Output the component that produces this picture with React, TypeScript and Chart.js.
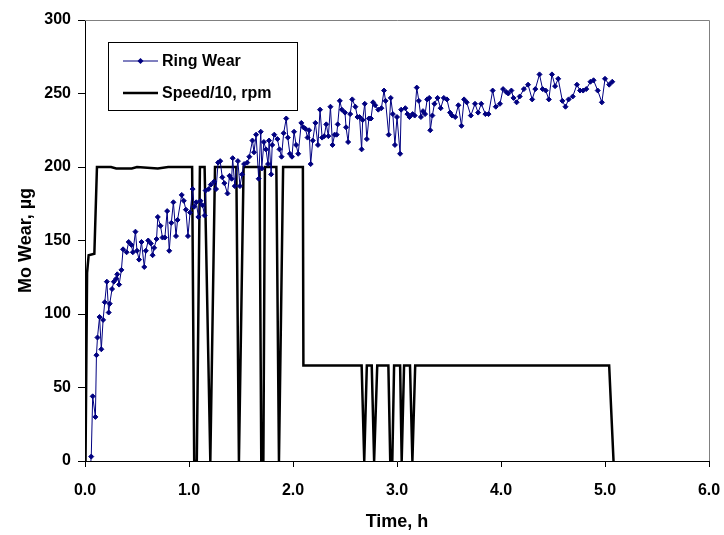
import React, { useEffect, useRef } from "react";
import { Chart, registerables } from "chart.js";

Chart.register(...registerables);

const FONT = 'Arial, "Liberation Sans", Helvetica, sans-serif';

// Ring wear series (time in h, wear in µg)
const ringTime = [
  0.04, 0.06, 0.074, 0.10, 0.11, 0.12, 0.14, 0.157, 0.174, 0.19, 0.21, 0.228, 0.238, 0.26, 0.277, 0.30,
  0.31, 0.328, 0.35, 0.366, 0.40, 0.42, 0.446, 0.46, 0.485, 0.50, 0.52, 0.543, 0.57, 0.585, 0.608, 0.633,
  0.65, 0.665, 0.688, 0.70, 0.726, 0.745, 0.768, 0.79, 0.81, 0.83, 0.85, 0.875, 0.89, 0.93, 0.95, 0.97,
  0.99, 1.01, 1.035, 1.05, 1.07, 1.09, 1.11, 1.13, 1.15, 1.16, 1.19, 1.21, 1.24, 1.26, 1.28, 1.30,
  1.32, 1.34, 1.37, 1.39, 1.41, 1.42, 1.44, 1.47, 1.49, 1.51, 1.53, 1.56, 1.58, 1.61, 1.625, 1.645,
  1.67, 1.69, 1.70, 1.72, 1.74, 1.76, 1.77, 1.79, 1.80, 1.82, 1.85, 1.87, 1.89, 1.91, 1.935, 1.95,
  1.97, 1.99, 2.01, 2.03, 2.05, 2.08, 2.10, 2.12, 2.14, 2.155, 2.17, 2.19, 2.215, 2.24, 2.26, 2.28,
  2.30, 2.32, 2.34, 2.36, 2.38, 2.40, 2.42, 2.43, 2.45, 2.47, 2.50, 2.51, 2.53, 2.55, 2.57, 2.60,
  2.62, 2.64, 2.66, 2.67, 2.69, 2.71, 2.73, 2.75, 2.77, 2.79, 2.82, 2.85, 2.875, 2.89, 2.92, 2.94,
  2.96, 2.98, 3.00, 3.03, 3.04, 3.08, 3.10, 3.12, 3.15, 3.17, 3.19, 3.21, 3.23, 3.25, 3.27, 3.29,
  3.31, 3.32, 3.34, 3.36, 3.39, 3.42, 3.45, 3.48, 3.51, 3.53, 3.56, 3.59, 3.62, 3.645, 3.67, 3.71,
  3.75, 3.78, 3.81, 3.85, 3.88, 3.92, 3.95, 3.99, 4.02, 4.05, 4.07, 4.10, 4.12, 4.15, 4.18, 4.22,
  4.26, 4.30, 4.33, 4.37, 4.40, 4.43, 4.46, 4.49, 4.52, 4.55, 4.59, 4.62, 4.65, 4.69, 4.73, 4.76,
  4.79, 4.82, 4.86, 4.89, 4.93, 4.97, 5.00, 5.04, 5.07,
];
const ringWear = [
  -15, 3, 44, 30, 72, 84, 98, 76, 96, 108, 122, 101, 107, 117, 122, 124,
  127, 120, 130, 144, 142, 149, 147, 142, 156, 143, 137, 149, 132, 143, 150, 148,
  140, 145, 151, 166, 160, 152, 152, 170, 143, 162, 176, 153, 164, 181, 177, 171,
  153, 169, 185, 173, 176, 166, 177, 174, 167, 184, 185, 188, 190, 185, 203, 204,
  193, 189, 182, 194, 192, 206, 187, 204, 187, 195, 202, 203, 207, 218, 210, 222,
  192, 224, 199, 217, 212, 202, 218, 195, 215, 222, 219, 212, 207, 223, 233, 220,
  209, 207, 224, 215, 209, 230, 227, 226, 220, 225, 202, 218, 230, 215, 239, 220,
  221, 229, 221, 241, 215, 222, 222, 229, 245, 239, 237, 227, 217, 236, 246, 241,
  234, 234, 212, 232, 243, 219, 233, 233, 244, 242, 239, 240, 252, 245, 222, 247,
  236, 215, 234, 209, 239, 240, 236, 234, 236, 235, 254, 245, 234, 238, 236, 246,
  247, 225, 235, 243, 247, 240, 247, 246, 237, 235, 234, 242, 228, 246, 244, 235,
  243, 237, 243, 236, 236, 252, 241, 243, 253, 251, 250, 252, 247, 244, 248, 253,
  256, 246, 253, 263, 253, 252, 246, 263, 255, 260, 245, 241, 246, 248, 256, 252,
  252, 253, 258, 259, 252, 244, 260, 256, 258,
];

// Speed / 10 (rpm) series
const speedTime = [
  0.005, 0.02, 0.035, 0.09, 0.115, 0.25, 0.3, 0.45, 0.5, 0.7, 0.8, 1.03,
  1.05, 1.075, 1.105, 1.15, 1.205, 1.25, 1.455, 1.48, 1.525, 1.678, 1.695, 1.715,
  1.73, 1.84, 1.865, 1.905, 2.095, 2.1, 2.66, 2.685, 2.71, 2.757, 2.78, 2.81,
  2.917, 2.935, 2.955, 2.972, 3.03, 3.045, 3.068, 3.125, 3.148, 3.175, 5.04, 5.082,
];
const speedValue = [
  0, 128, 140, 141, 200, 200, 199, 199, 200, 199, 200, 200,
  0, 0, 200, 200, 0, 200, 200, 0, 200, 200, 0, 0,
  200, 200, 0, 200, 200, 65, 65, 0, 65, 65, 0, 65,
  65, 0, 0, 65, 65, 0, 65, 65, 0, 65, 65, 0,
];

const seriesLabels = ["Ring Wear", "Speed/10, rpm"];
const xTitle = "Time, h";
const yTitle = "Mo Wear, µg";

const framePlugin = {
  id: "frame",
  beforeDatasetsDraw(chart: any) {
    const { ctx, chartArea } = chart;
    ctx.save();
    ctx.strokeStyle = "#808080";
    ctx.lineWidth = 1;
    ctx.beginPath();
    ctx.moveTo(chartArea.left, chartArea.top + 0.5);
    ctx.lineTo(chartArea.right + 0.5, chartArea.top + 0.5);
    ctx.lineTo(chartArea.right + 0.5, chartArea.bottom);
    ctx.stroke();
    ctx.restore();
  },
};

const boxLegendPlugin = {
  id: "boxLegend",
  afterDraw(chart: any) {
    const ctx = chart.ctx;
    const ds = chart.data.datasets;
    ctx.save();
    const bx = 108.5, by = 42.5, bw = 189, bh = 68;
    ctx.fillStyle = "#ffffff";
    ctx.fillRect(bx, by, bw, bh);
    ctx.strokeStyle = "#000";
    ctx.lineWidth = 1;
    ctx.strokeRect(bx, by, bw, bh);
    const rows = [61, 93];
    const x0 = 123, x1 = 158, tx = 162;
    ds.forEach((d: any, i: number) => {
      const y = rows[i];
      ctx.strokeStyle = d.borderColor;
      ctx.lineWidth = d.borderWidth;
      ctx.beginPath();
      ctx.moveTo(x0, y);
      ctx.lineTo(x1, y);
      ctx.stroke();
      if (d.pointRadius > 0) {
        const cx = (x0 + x1) / 2, r = 3;
        ctx.fillStyle = d.pointBackgroundColor;
        ctx.beginPath();
        ctx.moveTo(cx, y - r);
        ctx.lineTo(cx + r, y);
        ctx.lineTo(cx, y + r);
        ctx.lineTo(cx - r, y);
        ctx.closePath();
        ctx.fill();
      }
      ctx.fillStyle = "#000";
      ctx.font = `bold 16px ${FONT}`;
      ctx.textBaseline = "middle";
      ctx.textAlign = "left";
      ctx.fillText(d.label, tx, y + 1);
    });
    ctx.restore();
  },
};

function ChartView() {
  const ref = useRef<HTMLCanvasElement | null>(null);
  useEffect(() => {
    if (!ref.current) return;
    const ringData = ringTime.map((t, i) => ({ x: t, y: ringWear[i] }));
    const speedData = speedTime.map((t, i) => ({ x: t, y: speedValue[i] }));
    const tickFont = { family: FONT, size: 16, weight: "bold" as const };
    const titleFont = { family: FONT, size: 18, weight: "bold" as const };
    const chart = new Chart(ref.current, {
      type: "line",
      data: {
        datasets: [
          {
            label: seriesLabels[0],
            data: ringData,
            borderColor: "#000080",
            backgroundColor: "#000080",
            borderWidth: 1,
            pointStyle: "rectRot",
            pointRadius: 2.5,
            pointBackgroundColor: "#000080",
            pointBorderColor: "#000080",
            pointBorderWidth: 1,
            tension: 0,
          },
          {
            label: seriesLabels[1],
            data: speedData,
            borderColor: "#000000",
            backgroundColor: "#000000",
            borderWidth: 2.5,
            pointRadius: 0,
            tension: 0,
          },
        ],
      },
      options: {
        animation: false,
        responsive: false,
        maintainAspectRatio: false,
        layout: { padding: { top: 20, right: 15, left: 0, bottom: 0 } },
        plugins: { legend: { display: false }, tooltip: { enabled: false } },
        scales: {
          x: {
            type: "linear",
            min: 0,
            max: 6,
            afterFit: (s: any) => { s.height = 74; s.paddingLeft = 0; s.paddingRight = 0; },
            ticks: {
              stepSize: 1,
              color: "#000",
              font: tickFont,
              padding: 14,
              maxRotation: 0,
              callback: (v: any) => Number(v).toFixed(1),
            },
            grid: { display: true, drawOnChartArea: false, drawTicks: true, tickLength: 6, color: "#000" },
            border: { display: true, color: "#000", width: 1 },
            title: { display: true, text: xTitle, color: "#000", font: titleFont, padding: { top: 0, bottom: 2 } },
          },
          y: {
            min: 0,
            max: 300,
            afterFit: (s: any) => { s.width = 85; s.paddingTop = 0; s.paddingBottom = 0; },
            ticks: {
              stepSize: 50,
              color: "#000",
              font: tickFont,
              padding: 7,
              callback: (v: any) => String(v),
            },
            grid: { display: true, drawOnChartArea: false, drawTicks: true, tickLength: 7, color: "#000" },
            border: { display: true, color: "#000", width: 1 },
            title: { display: true, text: yTitle, color: "#000", font: titleFont, padding: { top: 15, bottom: 0 } },
          },
        },
      },
      plugins: [framePlugin, boxLegendPlugin],
    } as any);
    return () => chart.destroy();
  }, []);
  return <canvas ref={ref} width={724} height={535} style={{ display: "block" }} />;
}

export default function App() {
  return (
    <div style={{ position: "absolute", left: 0, top: 0, width: 724, height: 535, background: "#fff" }}>
      <ChartView />
    </div>
  );
}
